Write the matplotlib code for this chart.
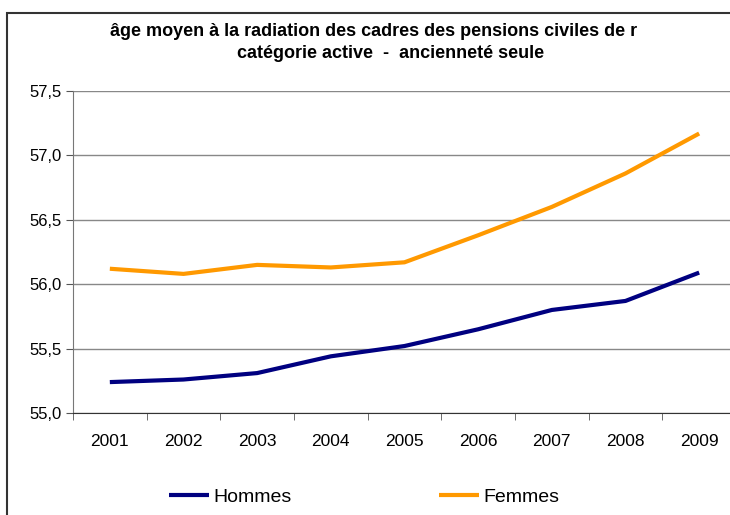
import matplotlib.pyplot as plt
from matplotlib.patches import Rectangle

plt.rcParams['font.family'] = 'Liberation Sans'

# Data
years = ['2001', '2002', '2003', '2004', '2005', '2006', '2007', '2008', '2009']
hommes = [55.24, 55.26, 55.31, 55.44, 55.52, 55.65, 55.80, 55.87, 56.09]
femmes = [56.12, 56.08, 56.15, 56.13, 56.17, 56.38, 56.60, 56.86, 57.17]
y_ticks = [55.0, 55.5, 56.0, 56.5, 57.0, 57.5]
y_labels = ['55,0', '55,5', '56,0', '56,5', '57,0', '57,5']

W, H = 730, 515
fig = plt.figure(figsize=(W / 100, H / 100), dpi=100)

# outer frame of the chart
fig.patches.append(Rectangle((7 / W, -0.1), 1.2, 1 - 13 / H + 0.1,
                             transform=fig.transFigure, fill=False,
                             edgecolor='#333333', linewidth=1.5))

ax = fig.add_axes([73 / W, 1 - 413 / H, (736 - 73) / W, (413 - 91) / H])
x = list(range(len(years)))
ax.plot(x, hommes, color='#000080', lw=3, label='Hommes', solid_capstyle='butt')
ax.plot(x, femmes, color='#FF9900', lw=3, label='Femmes', solid_capstyle='butt')

ax.set_xlim(-0.5, len(years) - 0.5)
ax.set_ylim(55.0, 57.5)
ax.set_yticks(y_ticks)
ax.set_yticklabels(y_labels, fontsize=12)
ax.set_xticks(x)
ax.set_xticklabels(years, fontsize=12.5)
ax.set_xticks([i - 0.5 for i in range(len(years) + 1)], minor=True)
ax.tick_params(axis='x', which='major', length=0, pad=15)
ax.tick_params(axis='x', which='minor', length=5, color='#555555')
ax.tick_params(axis='y', length=5, color='#555555', pad=3)
ax.grid(axis='y', color='#888888', lw=1)
for s in ['top', 'right']:
    ax.spines[s].set_visible(False)
ax.spines['left'].set_color('#777777')
ax.spines['bottom'].set_color('#333333')

fig.text(374 / W, 1 - 31 / H,
         'âge moyen à la radiation des cadres des pensions civiles de r',
         ha='center', va='center', fontsize=13, fontweight='bold')
fig.text(391 / W, 1 - 53 / H, 'catégorie active  -  ancienneté seule',
         ha='center', va='center', fontsize=13, fontweight='bold')

fig.legend(loc='center', bbox_to_anchor=(364 / W, 1 - 497 / H), ncol=2,
           frameon=False, fontsize=14, handlelength=2.06, handletextpad=0.2,
           columnspacing=7.6)

fig.savefig('out.png', dpi=100)
